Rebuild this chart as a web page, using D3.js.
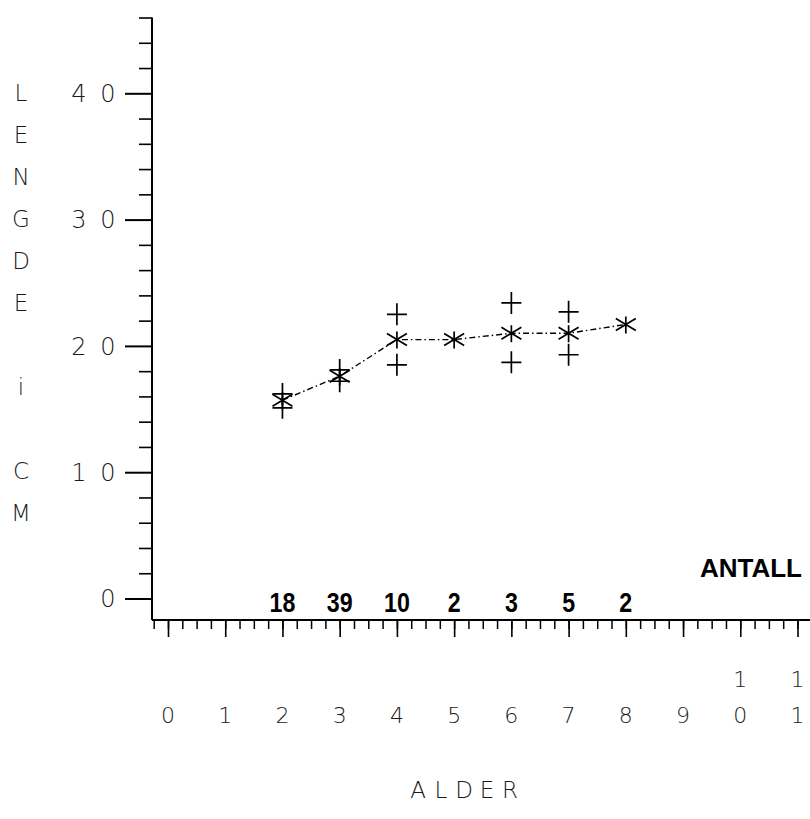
<!doctype html>
<html lang="en">
<head>
	<meta charset="UTF-8">
	<title>Lengde i cm etter alder</title>
	<script src="https://cdn.jsdelivr.net/npm/d3@7"></script>
	<style>
		body { margin: 0; background: #fff; }
		svg text { font-family: "DejaVu Sans", sans-serif; font-weight: 200; fill: #1a1a1a; }
		svg text.bold { font-family: "Liberation Sans", Arial, sans-serif; font-weight: bold; fill: #000; }
	</style>
</head>
<body>

	<script type="text/javascript">
		var w = 810, h = 819;

		// data
		var ages     = [2, 3, 4, 5, 6, 7, 8];
		var meanLen  = [15.7, 17.6, 20.5, 20.5, 21.0, 21.0, 21.7];
		var upperLen = [16.2, 18.1, 22.5, null, 23.4, 22.7, null];
		var lowerLen = [15.1, 17.2, 18.5, null, 18.7, 19.3, null];
		var antall   = [18, 39, 10, 2, 3, 5, 2];

		var xTicks = [0, 1, 2, 3, 4, 5, 6, 7, 8, 9, 10, 11];
		var xMinor = d3.range(-0.25, 11.01, 0.25);
		var yTicks = [0, 10, 20, 30, 40];
		var yMinor = [2, 4, 6, 8, 12, 14, 16, 18, 22, 24, 26, 28, 32, 34, 36, 38, 42, 44, 46];
		var yTitle = "LENGDE i CM";
		var xTitle = "ALDER";
		var countTitle = "ANTALL";

		var axisXpos = 152, axisYpos = 620;

		var x = d3.scaleLinear().domain([0, 11]).range([168, 797.5]);
		var y = d3.scaleLinear().domain([0, 40]).range([598.5, 93.3]);

		var svg = d3.select("body")
			.append("svg")
			.attr("width", w)
			.attr("height", h);

		// y axis: minor + major ticks, then the line itself
		svg.append("g")
			.attr("transform", "translate(" + axisXpos + ",0)")
			.call(d3.axisLeft(y).tickValues(yMinor).tickSize(13).tickFormat(""))
			.call(function(g) { g.select(".domain").remove(); })
			.selectAll("line").attr("stroke", "#000").attr("stroke-width", 1.6);

		svg.append("g")
			.attr("transform", "translate(" + axisXpos + ",0)")
			.call(d3.axisLeft(y).tickValues(yTicks).tickSize(27).tickFormat(""))
			.call(function(g) { g.select(".domain").remove(); })
			.selectAll("line").attr("stroke", "#000").attr("stroke-width", 2);

		svg.append("line")
			.attr("x1", axisXpos).attr("x2", axisXpos)
			.attr("y1", y(46)).attr("y2", axisYpos)
			.attr("stroke", "#000").attr("stroke-width", 2);

		// y tick labels, digits spread out like the plotter font
		yTicks.forEach(function(t) {
			var s = String(t).split("");
			s.forEach(function(ch, i) {
				svg.append("text")
					.attr("x", 108 - (s.length - 1 - i) * 29)
					.attr("y", y(t))
					.attr("dy", "0.36em")
					.attr("text-anchor", "middle")
					.attr("font-size", 24)
					.text(ch);
			});
		});

		// vertical axis title, one letter per line
		yTitle.split("").forEach(function(ch, i) {
			if (ch === " ") return;
			svg.append("text")
				.attr("x", 21)
				.attr("y", 93 + i * 42)
				.attr("dy", "0.36em")
				.attr("text-anchor", "middle")
				.attr("font-size", 23)
				.text(ch);
		});

		// x axis
		svg.append("g")
			.attr("transform", "translate(0," + axisYpos + ")")
			.call(d3.axisBottom(x).tickValues(xMinor).tickSize(9).tickFormat(""))
			.call(function(g) { g.select(".domain").remove(); })
			.selectAll("line").attr("stroke", "#000").attr("stroke-width", 1.5);

		svg.append("g")
			.attr("transform", "translate(0," + axisYpos + ")")
			.call(d3.axisBottom(x).tickValues(xTicks).tickSize(17).tickFormat(""))
			.call(function(g) { g.select(".domain").remove(); })
			.selectAll("line").attr("stroke", "#000").attr("stroke-width", 1.6);

		svg.append("line")
			.attr("x1", axisXpos).attr("x2", w)
			.attr("y1", axisYpos).attr("y2", axisYpos)
			.attr("stroke", "#000").attr("stroke-width", 2);

		// x tick labels: two-digit numbers are stacked
		xTicks.forEach(function(t) {
			var s = String(t);
			var rows = s.length > 1 ? [s[0], s[1]] : [null, s];
			rows.forEach(function(ch, r) {
				if (ch === null) return;
				svg.append("text")
					.attr("x", x(t))
					.attr("y", r === 0 ? 679 : 715)
					.attr("dy", "0.36em")
					.attr("text-anchor", "middle")
					.attr("font-size", 22)
					.text(ch);
			});
		});

		xTitle.split("").forEach(function(ch, i) {
			svg.append("text")
				.attr("x", 418 + i * 23)
				.attr("y", 790)
				.attr("dy", "0.36em")
				.attr("text-anchor", "middle")
				.attr("font-size", 23)
				.text(ch);
		});

		// counts along the bottom (narrow bold figures)
		svg.selectAll("text.count")
			.data(antall)
			.enter()
			.append("text")
			.attr("class", "bold count")
			.attr("transform", function(d, i) { return "translate(" + x(ages[i]) + ",612) scale(0.86,1)"; })
			.attr("text-anchor", "middle")
			.attr("font-size", 27)
			.text(function(d) { return d; });

		svg.append("text")
			.attr("class", "bold")
			.attr("x", 802)
			.attr("y", 577)
			.attr("text-anchor", "end")
			.attr("font-size", 26)
			.text(countTitle);

		// dash-dot line through the means
		var line = d3.line()
			.x(function(d, i) { return x(ages[i]); })
			.y(function(d) { return y(d); });

		svg.append("path")
			.datum(meanLen)
			.attr("d", line)
			.attr("fill", "none")
			.attr("stroke", "#000")
			.attr("stroke-width", 1.4)
			.attr("stroke-dasharray", "6,3,1.5,3");

		// +/- spread markers
		var plus = "M-10,0H10M0,-11V11";
		[upperLen, lowerLen].forEach(function(arr) {
			svg.append("g").selectAll("path")
				.data(arr.map(function(v, i) { return { a: ages[i], v: v }; })
					.filter(function(d) { return d.v !== null; }))
				.enter()
				.append("path")
				.attr("transform", function(d) { return "translate(" + x(d.a) + "," + y(d.v) + ")"; })
				.attr("d", plus)
				.attr("fill", "none")
				.attr("stroke", "#000")
				.attr("stroke-width", 1.7);
		});

		// star markers at the means
		svg.append("g").selectAll("path")
			.data(meanLen)
			.enter()
			.append("path")
			.attr("transform", function(d, i) { return "translate(" + x(ages[i]) + "," + y(d) + ")"; })
			.attr("d", "M-10,-6L10,6M-10,6L10,-6M0,-8V9")
			.attr("fill", "none")
			.attr("stroke", "#000")
			.attr("stroke-width", 1.7);
	</script>

</body>
</html>
